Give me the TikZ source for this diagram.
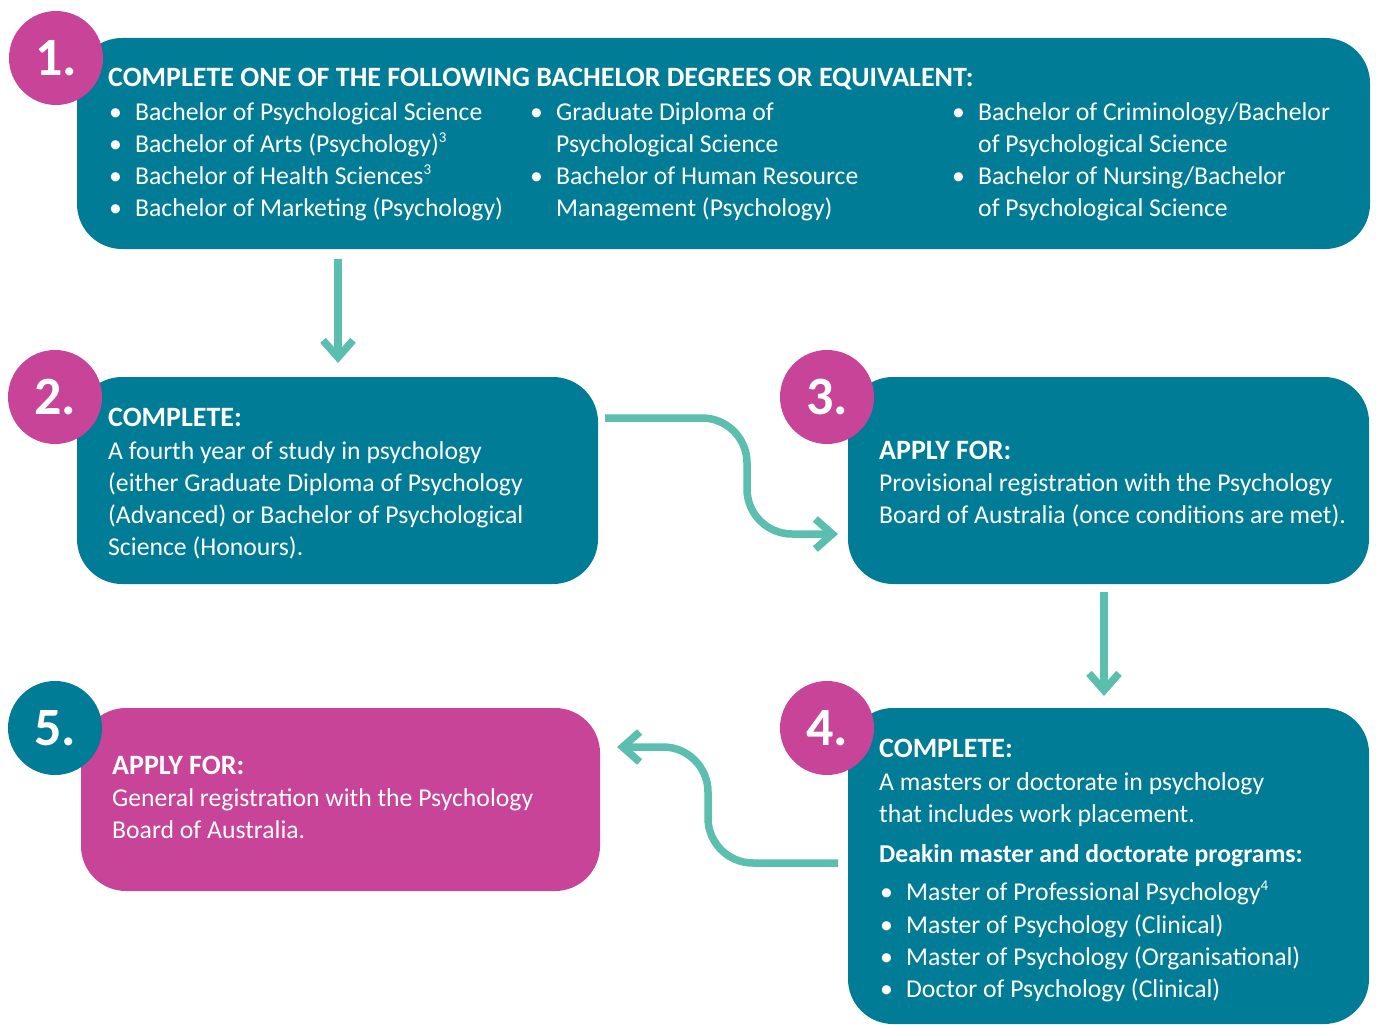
\documentclass[tikz,border=0pt]{standalone}
\usepackage{fontspec}
\setmainfont{Carlito}
\usetikzlibrary{arrows.meta}
\definecolor{dteal}{RGB}{0,124,150}
\definecolor{dmag}{RGB}{199,68,152}
\definecolor{dmint}{RGB}{91,190,174}
\newcommand{\bodyf}{\fontsize{25.7}{31.7}\selectfont}
\newcommand{\headf}{\fontsize{28}{31.7}\selectfont}
\newcommand{\msup}[1]{\raisebox{0.8ex}{\fontsize{15}{15}\selectfont #1}}
\newcommand{\bl}[1]{\makebox[27pt][l]{\hspace{1pt}•}#1}
\tikzset{
  tealbox/.style={fill=dteal, draw=none, rounded corners=45pt, inner sep=0pt},
  magbox/.style={fill=dmag, draw=none, rounded corners=45pt, inner sep=0pt},
  numcirc/.style={circle, minimum size=94pt, inner sep=0pt, text=white,
    font=\fontsize{54}{54}\selectfont\bfseries},
  txt/.style={anchor=base west, inner sep=0pt, text=white, font=\bodyf},
  hd/.style={anchor=base west, inner sep=0pt, text=white, font=\headf\bfseries},
  hdb/.style={anchor=base west, inner sep=0pt, text=white, font=\bodyf\bfseries},
  conn/.style={draw=dmint, line width=7.5pt, rounded corners=45pt,
    -{Straight Barb[length=17pt, width=30pt]}},
}
\begin{document}
\begin{tikzpicture}[x=1pt,y=-1pt]
\useasboundingbox (0,0) rectangle (1376,1025);
% boxes
\node[tealbox, minimum width=1293pt, minimum height=211pt] (b1) at (723.5,143.5) {};
\node[tealbox, minimum width=521pt, minimum height=207pt] (b2) at (337.5,480.5) {};
\node[tealbox, minimum width=521pt, minimum height=207pt] (b3) at (1108.5,480.5) {};
\node[tealbox, minimum width=521pt, minimum height=316pt] (b4) at (1108.5,866) {};
\node[magbox, minimum width=519pt, minimum height=183pt] (b5) at (340.5,799.5) {};
% number circles
\node[numcirc, fill=dmag] (c1) at (56,58) {\raisebox{-3pt}{1.}};
\node[numcirc, fill=dmag] (c2) at (55,397) {\raisebox{-3pt}{2.}};
\node[numcirc, fill=dmag] (c3) at (827,397) {\raisebox{-3pt}{3.}};
\node[numcirc, fill=dmag] (c4) at (827,728) {\raisebox{-3pt}{4.}};
\node[numcirc, fill=dteal] (c5) at (55,728) {\raisebox{-3pt}{5.}};
% box 1 text
\node[hd] (h1) at (108,87) {COMPLETE ONE OF THE FOLLOWING BACHELOR DEGREES OR EQUIVALENT:};
\node[txt] (l11) at (108,120) {\bl{Bachelor of Psychological Science}};
\node[txt] (l12) at (108,152) {\bl{Bachelor of Arts (Psychology)\msup{3}}};
\node[txt] (l13) at (108,184) {\bl{Bachelor of Health Sciences\msup{3}}};
\node[txt] (l14) at (108,216) {\bl{Bachelor of Marketing (Psychology)}};
\node[txt] (l21) at (529,120) {\bl{Graduate Diploma of}};
\node[txt] (l22) at (556,152) {Psychological Science};
\node[txt] (l23) at (529,184) {\bl{Bachelor of Human Resource}};
\node[txt] (l24) at (556,216) {Management (Psychology)};
\node[txt] (l31) at (951,120) {\bl{Bachelor of Criminology/Bachelor}};
\node[txt] (l32) at (978,152) {of Psychological Science};
\node[txt] (l33) at (951,184) {\bl{Bachelor of Nursing/Bachelor}};
\node[txt] (l34) at (978,216) {of Psychological Science};
% box 2 text
\node[hd] (h2) at (108,426) {COMPLETE:};
\node[txt] (m21) at (108,459) {A fourth year of study in psychology};
\node[txt] (m22) at (108,491) {(either Graduate Diploma of Psychology};
\node[txt] (m23) at (108,523) {(Advanced) or Bachelor of Psychological};
\node[txt] (m24) at (108,555) {Science (Honours).};
% box 3 text
\node[hd] (h3) at (879,459) {APPLY FOR:};
\node[txt] (m31) at (879,491) {Provisional registration with the Psychology};
\node[txt] (m32) at (879,523) {Board of Australia (once conditions are met).};
% box 4 text
\node[hd] (h4) at (879,757) {COMPLETE:};
\node[txt] (m41) at (879,790) {A masters or doctorate in psychology};
\node[txt] (m42) at (879,822) {that includes work placement.};
\node[hdb] (h4b) at (879,862) {Deakin master and doctorate programs:};
\node[txt] (m43) at (879,900) {\bl{Master of Professional Psychology\msup{4}}};
\node[txt] (m44) at (879,933) {\bl{Master of Psychology (Clinical)}};
\node[txt] (m45) at (879,965) {\bl{Master of Psychology (Organisational)}};
\node[txt] (m46) at (879,997) {\bl{Doctor of Psychology (Clinical)}};
% box 5 text
\node[hd] (h5) at (112,774) {APPLY FOR:};
\node[txt] (m51) at (112,806) {General registration with the Psychology};
\node[txt] (m52) at (112,838) {Board of Australia.};
% connectors
\coordinate (a1s) at (338,259);
\coordinate (a1e) at (338,363);
\coordinate (a2s) at (605,418);
\coordinate (a2e) at (838,534);
\coordinate (a3s) at (1104,592);
\coordinate (a3e) at (1104,696);
\coordinate (a4s) at (838,863);
\coordinate (a4e) at (617,747);
\draw[conn] (a1s) -- (a1e);
\draw[conn] (a2s) -- (a2s -| 747,0) -- (747,0 |- a2e) -- (a2e);
\draw[conn] (a3s) -- (a3e);
\draw[conn] (a4s) -- (a4s -| 708,0) -- (708,0 |- a4e) -- (a4e);
\end{tikzpicture}
\end{document}
